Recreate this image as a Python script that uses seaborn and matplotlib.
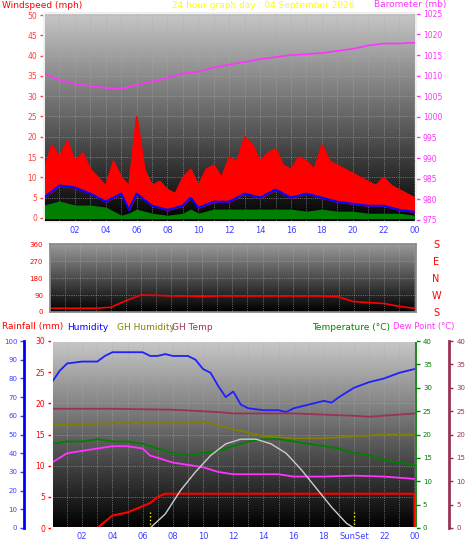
import numpy as np
import pandas as pd
import matplotlib
matplotlib.use("Agg")
import matplotlib.pyplot as plt
import seaborn as sns

sns.set_theme(style="dark")
plt.rcParams['font.family'] = ['DejaVu Sans']

# ---- data ----
wind_hours = [0,0.5,1,1.5,2,2.5,3,3.5,4,4.5,5,5.5,6,6.5,7,7.5,8,8.5,9,9.5,10,10.5,11,11.5,12,12.5,13,13.5,14,14.5,15,15.5,16,16.5,17,17.5,18,18.5,19,19.5,20,20.5,21,21.5,22,22.5,23,23.5,24]
gust = [12,18,15,19,14,16,12,10,8,14,10,8,25,12,8,9,7,6,10,12,8,12,13,10,15,14,20,18,14,16,17,13,12,15,14,12,18,14,13,12,11,10,9,8,10,8,7,6,5]
avg_hours = [0,1,2,3,4,5,5.5,6,7,8,9,9.5,10,11,12,13,14,15,16,17,18,19,20,21,22,23,24]
avg_wind = [5,8,7.5,6,4,6,2,6,3,2,3,5,2.5,4,4,6,5,7,5,6,5,4,3.5,3,3,2,1.5]
low_wind = [3,4,3,3,2.5,0.5,1,2,1,0.5,1,2,1,2,2,2,2,2,2,1.5,2,1.5,1.5,1,1,1,0.5]
hours = list(range(25))
baro = [1010.5,1009,1008,1007.5,1007,1006.8,1007.8,1008.5,1009.5,1010.5,1011,1012,1012.7,1013.3,1014,1014.5,1015,1015.2,1015.5,1016,1016.5,1017.3,1017.8,1017.8,1018]
wdir = [20,20,20,20,25,60,90,88,85,85,82,85,85,85,85,85,85,85,85,80,55,50,45,30,20]

hum_hours = [0,0.5,1,2,3,3.5,4,5,6,6.5,7,7.5,8,9,9.5,10,10.5,11,11.5,12,12.5,13,14,15,15.5,16,17,18,18.5,19,20,21,22,23,24]
humidity = [78,84,88,89,89,92,94,94,94,92,92,93,92,92,90,85,83,76,70,73,66,64,63,63,62,64,66,68,67,70,75,78,80,83,85]
ghh_hours = [0,4,9,10,11,12,14,16,18,20,22,24]
gh_humidity = [55,56,56,57,55,53,49,48,48,49,50,50]
ght_hours = [0,4,8,11,12,16,20,21,24]
gh_temp = [25.5,25.5,25.3,24.8,24.5,24.5,24,23.8,24.5]
temperature = [18,18.5,18.5,19,18.5,18.5,18,17,16,15.5,16,16.5,17.5,18.5,19,19,18.5,18,17.5,17,16,15.5,14.5,14,13.5]
dp_hours = [0,1,2,3,4,5,6,6.5,7,8,9,10,11,12,13,14,15,16,18,20,22,24]
dew_point = [14,16,16.5,17,17.5,17.5,17,15.5,15,14,13.5,13,12,11.5,11.5,11.5,11.5,11,11,11.2,11,10.5]
rain_hours = [0,3,3.5,4,5,6,6.5,7,7.5,23.99,24]
rain = [0,0,1,2,2.5,3.5,4,5,5.5,5.5,0]
sun_hours = [6.5,7.5,8.5,9.5,10.5,11.5,12.5,13.5,14.5,15.5,16.5,17.5,18.5,19.5,20]
solar = [0,3,8,12,15.5,18,19,19,18,16,12.5,8.5,4.5,1,0]

W, H = 466, 555
fig = plt.figure(figsize=(W/100, H/100), dpi=100, facecolor='white')

def ax_at(l, t, r, b):
    return fig.add_axes([l/W, 1-b/H, (r-l)/W, (b-t)/H])

grad = np.linspace(0, 1, 256).reshape(-1, 1)
def bg(ax, top=0.78, bottom=0.0):
    ax.imshow(grad*(top-bottom)+bottom, cmap='gray', vmin=0, vmax=1, aspect='auto',
              extent=[0, 1, 0, 1], transform=ax.transAxes, origin='lower', zorder=0)

def xstyle(ax, labels=True, sunset=False):
    ax.set_xlim(0, 24.1)
    ax.set_xticks(range(2, 25, 2))
    ax.set_xticks(range(0, 25), minor=True)
    if labels:
        labs = [f"{h%24:02d}" for h in range(2, 25, 2)]
        if sunset:
            labs[9] = "SunSet"
        ax.set_xticklabels(labs, color='#4040ff', fontsize=6)
    else:
        ax.set_xticklabels([])
    ax.grid(True, which='both', color='#aaaaaa', lw=0.5, ls=':')
    ax.tick_params(axis='x', length=0, pad=3)
    for s in ax.spines.values():
        s.set_color('#888888')

def ystyle(ax, color, fs=5.5):
    ax.tick_params(axis='y', colors=color, labelsize=fs, length=3, width=1, pad=2)

# ---- top panel ----
ax1 = ax_at(44, 13, 416, 222)
bg(ax1)
xstyle(ax1)
ax1.fill_between(wind_hours, np.interp(wind_hours, avg_hours, avg_wind), gust, color='red', zorder=2)
sns.lineplot(x=wind_hours, y=gust, ax=ax1, color='red', lw=1, zorder=2)
sns.lineplot(x=avg_hours, y=avg_wind, ax=ax1, color='blue', lw=1.5, zorder=3)
ax1.fill_between(avg_hours, 0, low_wind, color='green', zorder=4)
ax1.set_ylim(-1, 50.5)
ax1.set_yticks(range(0, 51, 5))
ystyle(ax1, '#ff4040')
ax1b = ax1.twinx()
sns.lineplot(x=hours, y=baro, ax=ax1b, color='#ff33ff', lw=1.2)
ax1b.set_ylim(974.5, 1025.2)
ax1b.set_yticks(range(975, 1026, 5))
ystyle(ax1b, '#ff33ff')
ax1b.grid(False)
ax1.yaxis.grid(True, color='#aaaaaa', lw=0.5, ls=':')
fig.text(2/W, 1-5/H, "Windspeed (mph)", color='red', fontsize=6.5, va='center')
fig.text(172/W, 1-5/H, "24 hour graph day : 04 September 2026", color='yellow', fontsize=6.5, va='center')
fig.text(374/W, 1-5/H, "Barometer (mb)", color='#ff33ff', fontsize=6.5, va='center')

# ---- middle panel ----
ax2 = ax_at(50, 244, 416, 312)
bg(ax2, top=0.6)
xstyle(ax2, labels=False)
sns.lineplot(x=hours, y=wdir, ax=ax2, color='red', lw=1.2)
ax2.set_ylim(0, 360)
ax2.set_yticks(range(0, 361, 90))
ystyle(ax2, 'red', fs=5)
for i, lab in enumerate(["S", "E", "N", "W", "S"]):
    fig.text(436/W, 1-(245+i*17)/H, lab, color='red', fontsize=7, ha='center', va='center')

# ---- bottom panel ----
ax3 = ax_at(52, 341, 416, 528)
bg(ax3)
xstyle(ax3, sunset=True)
ax3.set_ylim(0, 30)
ax3.set_yticks(range(0, 31, 5))
ystyle(ax3, 'red')
ax3.spines['left'].set_color('red')
sns.lineplot(x=rain_hours, y=rain, ax=ax3, color='red', lw=1.5, zorder=5)

axh = ax3.twinx()
axh.spines['left'].set_position(('outward', 20))
axh.spines['left'].set_visible(True)
axh.spines['left'].set_color('blue')
axh.spines['left'].set_linewidth(2)
axh.yaxis.set_label_position('left'); axh.yaxis.set_ticks_position('left')
axh.set_ylim(0, 100)
axh.set_yticks(range(0, 101, 10))
ystyle(axh, '#4040ff', fs=5)
axh.grid(False)
sns.lineplot(x=hum_hours, y=humidity, ax=axh, color='#2020ff', lw=1.3)
sns.lineplot(x=ghh_hours, y=gh_humidity, ax=axh, color='#808000', lw=1.3)

axt = ax3.twinx()
axt.set_ylim(0, 40)
axt.set_yticks(range(0, 41, 5))
ystyle(axt, 'green', fs=5)
axt.spines['right'].set_color('green')
axt.grid(False)
sns.lineplot(x=ght_hours, y=gh_temp, ax=axt, color='#993355', lw=1.3)
sns.lineplot(x=hours, y=temperature, ax=axt, color='green', lw=1.3)
sns.lineplot(x=dp_hours, y=dew_point, ax=axt, color='#ff33ff', lw=1.3)
sns.lineplot(x=sun_hours, y=solar, ax=axt, color='#cccccc', lw=1)
axt.plot([6.5, 6.5], [0, 3.5], color='yellow', ls=':', lw=1)
axt.plot([20, 20], [0, 3.5], color='yellow', ls=':', lw=1)

axd = ax3.twinx()
axd.spines['right'].set_position(('outward', 24))
axd.spines['right'].set_color('#993355')
axd.spines['right'].set_linewidth(2)
axd.set_ylim(0, 40)
axd.set_yticks(range(0, 41, 5))
ystyle(axd, '#993355', fs=5)
axd.grid(False)

fig.text(2/W, 1-327/H, "Rainfall (mm)", color='red', fontsize=6.5, va='center')
fig.text(67/W, 1-327/H, "Humidity", color='blue', fontsize=6.5, va='center')
fig.text(117/W, 1-327/H, "GH Humidity", color='#808000', fontsize=6.5, va='center')
fig.text(172/W, 1-327/H, "GH Temp", color='#993355', fontsize=6.5, va='center')
fig.text(312/W, 1-327/H, "Temperature (°C)", color='green', fontsize=6.5, va='center')
fig.text(393/W, 1-327/H, "Dew Point (°C)", color='#ff33ff', fontsize=6, va='center')

fig.savefig("out.png", dpi=100, facecolor='white')
